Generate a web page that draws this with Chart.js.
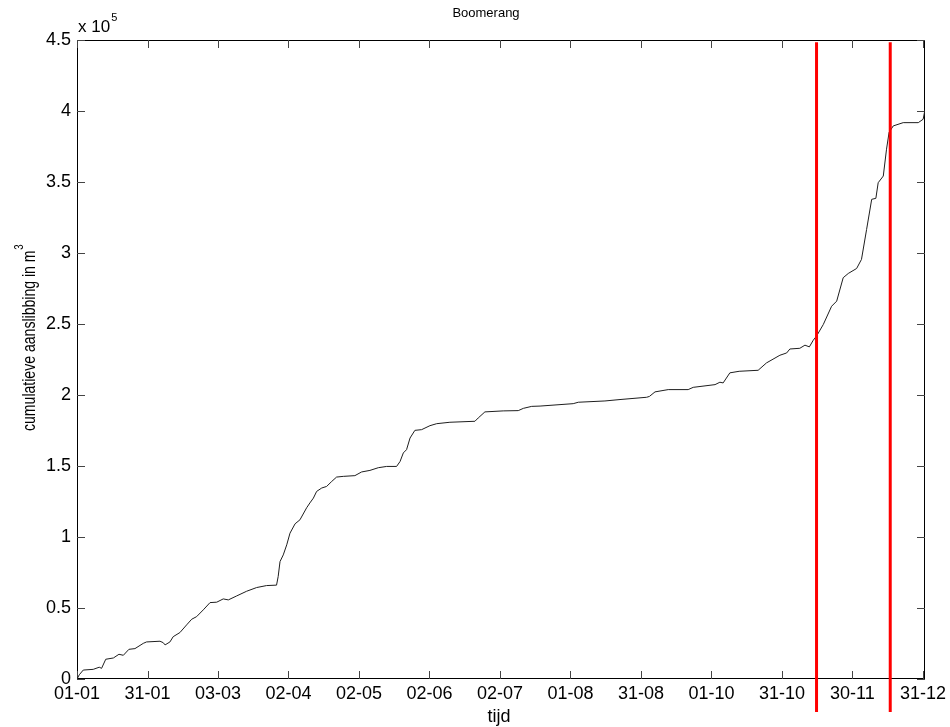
<!DOCTYPE html>
<html>
<head>
<meta charset="utf-8">
<script src="https://cdn.jsdelivr.net/npm/chart.js@4.4.1/dist/chart.umd.min.js"></script>
<style>
html,body{margin:0;padding:0;background:#fff;}
canvas{display:block;}
</style>
</head>
<body>
<canvas id="c" width="950" height="727"></canvas>
<script>
// ---- data (day of year, cumulative volume in m^3) ----
const days = [0,1,2.7,7,9.6,10.6,12.4,15.7,18.1,20,22.4,25,28.6,30,35.8,37.2,38,40.1,41.5,44.4,47.3,49.5,51.6,54.5,57.4,60.3,63.1,65.3,68.9,73.2,77.5,81.8,86.1,86.8,87.6,89,90.5,91.9,94.1,96.2,99.1,100.5,102,103.4,105.6,107.7,109.9,112,114.9,119.9,122.8,126.4,130,133.6,137.9,139.4,140.8,142.2,143.7,145.8,148.7,152.3,155.2,160.9,171.7,173.1,176,183.9,190.4,192.6,196.2,199.8,214.1,216.3,227.8,234.3,245.8,247,249.4,255.1,263.7,265.9,275.3,277.4,278.8,281.7,285.7,293.9,297.5,303.3,306.2,307.6,311.9,314.1,316,317.7,319.1,322,325.6,327.8,330.6,332.8,336.4,338.5,340.7,342.9,344.7,345.7,347.9,349.3,350.4,352.2,356.5,363,365.1,365.9];
const volume = [0,3000,6300,6800,8300,7500,13900,14800,17400,16700,20900,21400,25100,26100,26600,25600,24000,26100,29800,32700,38100,42100,43900,48700,53800,54100,56400,55700,58500,61800,64400,65800,66100,72100,82700,87400,94500,102700,109300,112100,120600,124000,127400,132100,134500,135600,139100,142200,142700,143200,145800,146900,148800,149700,149700,153200,159200,161500,169700,175100,175600,178400,179800,180800,181500,183800,188100,188800,189000,190600,192000,192200,193900,194900,195800,196800,198400,199000,202200,203800,203800,205400,207300,209000,208500,215600,216700,217400,222600,228000,229600,232400,232900,235100,233900,238600,241500,249600,262500,266100,282600,285600,289100,295500,316600,337800,338500,349500,354200,373100,384900,389500,391800,391800,394200,401000];
const markerDays = [319.1, 350.9];
const markerRange = [-23300, 448400];

const xTickDays = [0,30.42,60.83,91.25,121.67,152.08,182.5,212.92,243.33,273.75,304.17,334.58,365];
const xTickLabels = ['01-01','31-01','03-03','02-04','02-05','02-06','02-07','01-08','31-08','01-10','31-10','30-11','31-12'];
const yTickValues = [0,50000,100000,150000,200000,250000,300000,350000,400000,450000];
const yTickLabels = ['0','0.5','1','1.5','2','2.5','3','3.5','4','4.5'];

const titleText = 'Boomerang';
const xLabel = 'tijd';
const yLabel = 'cumulatieve aanslibbing in m';
const yLabelSup = '3';
const expText = 'x 10';
const expSup = '5';

const FONT = '"Liberation Sans", Arial, Helvetica, sans-serif';

const curve = days.map((d, i) => ({x: d, y: volume[i]}));
const markerSets = markerDays.map(d => ({
  data: [{x: d, y: markerRange[0]}, {x: d, y: markerRange[1]}],
  borderColor: '#ff0000', borderWidth: 3, pointRadius: 0, clip: false, order: 0
}));

const framePlugin = {
  id: 'frame',
  beforeDatasetsDraw(chart) {
    const {ctx, chartArea: a, scales} = chart;
    ctx.save();
    ctx.strokeStyle = '#000';
    ctx.lineWidth = 1;
    ctx.strokeRect(a.left + 0.5, a.top + 0.5, a.right - a.left - 1, a.bottom - a.top - 1);
    const tl = 8;
    ctx.strokeStyle = '#444';
    ctx.beginPath();
    xTickDays.forEach(v => {
      const x = Math.round(scales.x.getPixelForValue(v)) + 0.5;
      ctx.moveTo(x, a.bottom); ctx.lineTo(x, a.bottom - tl);
      ctx.moveTo(x, a.top); ctx.lineTo(x, a.top + tl);
    });
    yTickValues.forEach(v => {
      const y = Math.round(scales.y.getPixelForValue(v)) + 0.5;
      ctx.moveTo(a.left, y); ctx.lineTo(a.left + tl, y);
      ctx.moveTo(a.right, y); ctx.lineTo(a.right - tl, y);
    });
    ctx.stroke();
    ctx.restore();
  },
  afterDraw(chart) {
    const {ctx, chartArea: a} = chart;
    ctx.save();
    ctx.fillStyle = '#000';
    // title
    ctx.font = '13px ' + FONT;
    ctx.textAlign = 'center';
    ctx.textBaseline = 'alphabetic';
    ctx.fillText(titleText, 486, 17);
    // exponent label
    ctx.font = '17px ' + FONT;
    ctx.textAlign = 'left';
    ctx.fillText(expText, a.left + 1, 32);
    const w = ctx.measureText(expText).width;
    ctx.font = '11px ' + FONT;
    ctx.fillText(expSup, a.left + 1 + w + 1, 21);
    // x label
    ctx.font = '18px ' + FONT;
    ctx.textAlign = 'center';
    ctx.fillText(xLabel, (a.left + a.right) / 2 - 2, 722);
    // y label (glyphs taller across than along the text, as in the reference)
    ctx.translate(35, 431);
    ctx.rotate(-Math.PI / 2);
    ctx.scale(0.74, 1);
    ctx.font = '19px ' + FONT;
    ctx.textAlign = 'left';
    ctx.fillText(yLabel, 0, 0);
    const wy = ctx.measureText(yLabel).width;
    ctx.font = '13px ' + FONT;
    ctx.fillText(yLabelSup, wy + 1, -12);
    ctx.restore();
  }
};

new Chart(document.getElementById('c'), {
  type: 'line',
  data: {
    datasets: [
      ...markerSets,
      {data: curve, borderColor: '#1e1e1e', borderWidth: 1, pointRadius: 0, tension: 0, order: 1}
    ]
  },
  options: {
    responsive: false,
    animation: false,
    events: [],
    layout: {padding: {left: 0, right: 25, top: 40, bottom: 0}},
    plugins: {
      legend: {display: false},
      tooltip: {enabled: false},
      title: {display: false}
    },
    scales: {
      x: {
        type: 'linear', min: 0, max: 365.9,
        grid: {display: false, drawTicks: false},
        border: {display: false},
        afterBuildTicks: s => { s.ticks = xTickDays.map(v => ({value: v})); },
        afterFit: s => { s.height = 48; },
        ticks: {
          autoSkip: false, maxRotation: 0, minRotation: 0, padding: 4, color: '#000',
          font: {family: FONT, size: 18},
          callback: (v, i) => xTickLabels[i]
        }
      },
      y: {
        type: 'linear', min: 0, max: 450000,
        grid: {display: false, drawTicks: false},
        border: {display: false},
        afterBuildTicks: s => { s.ticks = yTickValues.map(v => ({value: v})); },
        afterFit: s => { s.width = 77; },
        ticks: {
          autoSkip: false, padding: 6, color: '#000',
          font: {family: FONT, size: 18},
          callback: (v, i) => yTickLabels[i]
        }
      }
    }
  },
  plugins: [framePlugin]
});
</script>
</body>
</html>
